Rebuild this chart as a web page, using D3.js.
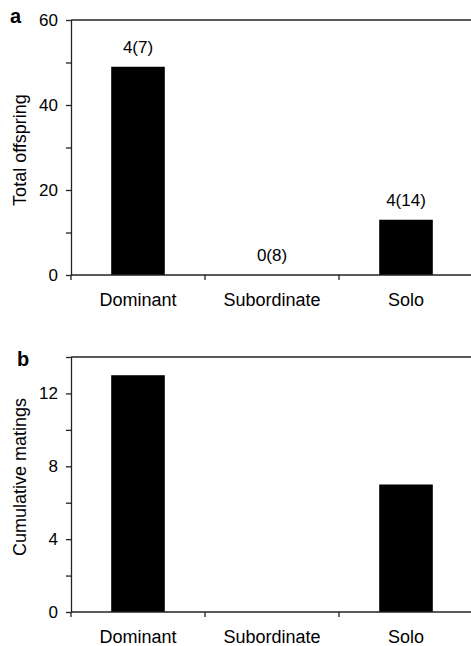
<!DOCTYPE html>
<html>
<head>
<meta charset="utf-8">
<script src="https://cdn.jsdelivr.net/npm/d3@7"></script>
<style>
	body { margin: 0; background: #fff; }
	svg { display: block; font-family: "Liberation Sans", Arial, sans-serif; }
	.axis path, .axis line { stroke: #222; stroke-width: 1.3; }
	.axis text { fill: #000; }
	.y-axis text { font-size: 17px; }
	.x-axis text { font-size: 18px; }
</style>
</head>
<body>
<div id="chart"></div>
<script>
// data
const categories = ["Dominant", "Subordinate", "Solo"];
const offspring = [49, 0, 13];
const offspringLabels = ["4(7)", "0(8)", "4(14)"];
const offspringTicks = [0, 10, 20, 30, 40, 50, 60];
const offspringTickLabels = [0, 20, 40, 60];
const matings = [13, 0, 7];
const matingTicks = [0, 2, 4, 6, 8, 10, 12, 14];
const matingTickLabels = [0, 4, 8, 12];

const width = 471;
const height = 646;

const svg = d3.select("#chart")
	.append("svg")
	.attr("width", width)
	.attr("height", height);

// x - behavioural class, bands between boundary ticks
const xScale = d3.scaleBand()
	.domain(categories)
	.range([71, 473])
	.padding(0);
const barWidth = xScale.bandwidth() * 0.4;

function drawPanel(opt) {
	const g = svg.append("g");

	const yScale = d3.scaleLinear()
		.domain([0, d3.max(opt.ticks)])
		.range([opt.bottom, opt.top]);

	// bars
	g.selectAll("rect.bar")
		.data(opt.values)
		.enter()
		.append("rect")
		.attr("class", "bar")
		.attr("x", (d, i) => xScale(categories[i]) + (xScale.bandwidth() - barWidth) / 2)
		.attr("y", (d) => yScale(d))
		.attr("width", barWidth)
		.attr("height", (d) => yScale(0) - yScale(d))
		.attr("fill", "#000");

	// labels above bars
	if (opt.labels) {
		g.selectAll("text.lab")
			.data(opt.labels)
			.enter()
			.append("text")
			.attr("class", "lab")
			.attr("x", (d, i) => xScale(categories[i]) + xScale.bandwidth() / 2)
			.attr("y", (d, i) => yScale(opt.values[i]) - 14)
			.attr("text-anchor", "middle")
			.style("font-size", "17px")
			.text((d) => d);
	}

	// y axis
	const yAxis = d3.axisLeft(yScale)
		.tickValues(opt.ticks)
		.tickFormat((d) => (opt.tickLabels.includes(d) ? d : ""))
		.tickSize(5)
		.tickSizeOuter(0)
		.tickPadding(8);
	g.append("g")
		.attr("class", "axis y-axis")
		.attr("transform", `translate(${xScale.range()[0]},0)`)
		.call(yAxis);

	// top frame line
	g.append("line")
		.attr("class", "frame")
		.attr("x1", xScale.range()[0])
		.attr("x2", width)
		.attr("y1", yScale.range()[1])
		.attr("y2", yScale.range()[1])
		.attr("stroke", "#222")
		.attr("stroke-width", 1.3);

	// x axis (labels centred, ticks on band boundaries)
	const xAxis = d3.axisBottom(xScale).tickSize(0).tickPadding(18);
	const xg = g.append("g")
		.attr("class", "axis x-axis")
		.attr("transform", `translate(0,${yScale(0)})`)
		.call(xAxis);
	xg.select(".domain").remove();
	xg.append("line")
		.attr("x1", xScale.range()[0])
		.attr("x2", width)
		.attr("y1", 0)
		.attr("y2", 0);
	xg.selectAll("line.bound")
		.data(categories.map((c) => xScale(c)).concat([xScale.range()[1]]))
		.enter()
		.append("line")
		.attr("class", "bound")
		.attr("x1", (d) => d)
		.attr("x2", (d) => d)
		.attr("y1", 0)
		.attr("y2", 5);

	// y title
	g.append("text")
		.attr("transform", `translate(26,${opt.titleY}) rotate(-90)`)
		.attr("text-anchor", "middle")
		.style("font-size", "18px")
		.text(opt.title);

	// panel letter
	g.append("text")
		.attr("x", opt.letterX)
		.attr("y", opt.letterY)
		.style("font-size", "20px")
		.style("font-weight", "bold")
		.text(opt.letter);
}

drawPanel({
	values: offspring,
	labels: offspringLabels,
	ticks: offspringTicks,
	tickLabels: offspringTickLabels,
	top: 20,
	bottom: 275,
	title: "Total offspring",
	titleY: 150,
	letter: "a",
	letterX: 10,
	letterY: 23
});

drawPanel({
	values: matings,
	labels: null,
	ticks: matingTicks,
	tickLabels: matingTickLabels,
	top: 357,
	bottom: 612,
	title: "Cumulative matings",
	titleY: 477,
	letter: "b",
	letterX: 17,
	letterY: 366
});
</script>
</body>
</html>
